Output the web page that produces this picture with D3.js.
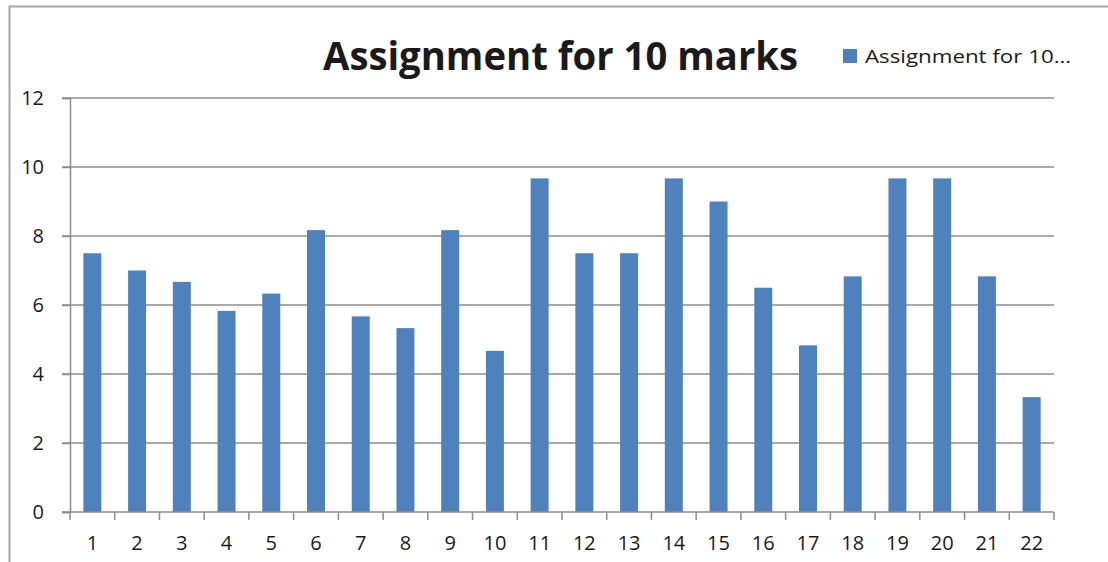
<!DOCTYPE html>
<html>
<head>
<meta charset="utf-8">
<script src="https://cdn.jsdelivr.net/npm/d3@7"></script>
<style>
  html, body { margin: 0; padding: 0; background: #fff; }
  svg { display: block; }
  text { font-family: "Open Sans", "Noto Sans", sans-serif; fill: #1a1a1a; }
</style>
</head>
<body>
<svg id="chart" width="1108" height="562"></svg>
<script>
const title = "Assignment for 10 marks";
const legendLabel = "Assignment for 10…";
const categories = ["1","2","3","4","5","6","7","8","9","10","11","12","13","14","15","16","17","18","19","20","21","22"];
const values = [7.5, 7.0, 6.67, 5.83, 6.33, 8.17, 5.67, 5.33, 8.17, 4.67, 9.67, 7.5, 7.5, 9.67, 9.0, 6.5, 4.83, 6.83, 9.67, 9.67, 6.83, 3.33];
const yTicks = [0, 2, 4, 6, 8, 10, 12];

const svg = d3.select("#chart");
const W = 1108, H = 562;
const m = { left: 70, right: 1054, top: 98, bottom: 512 };

// outer chart border (left and top visible)
svg.append("path")
  .attr("d", `M9.5,${H} L9.5,6.5 L${W},6.5`)
  .attr("fill", "none").attr("stroke", "#a6a6a6").attr("stroke-width", 2);

const x = d3.scaleBand().domain(categories).range([m.left, m.right]).paddingInner(0.6).paddingOuter(0.3);
const xb = d3.scaleBand().domain(categories).range([m.left, m.right]).padding(0);
const y = d3.scaleLinear().domain([0, 12]).range([m.bottom, m.top]);

// gridlines
svg.append("g").selectAll("line").data(yTicks.filter(d => d > 0)).join("line")
  .attr("x1", m.left - 8).attr("x2", m.right)
  .attr("y1", d => y(d)).attr("y2", d => y(d))
  .attr("stroke", "#8c8c8c").attr("stroke-width", 1.5);

// bars
svg.append("g").selectAll("rect").data(values).join("rect")
  .attr("x", (d, i) => xb(categories[i]) + xb.bandwidth() / 2 - 9)
  .attr("width", 18)
  .attr("y", d => y(d))
  .attr("height", d => y(0) - y(d))
  .attr("fill", "#4f81bd");

// y axis
const yAxis = svg.append("g").attr("transform", `translate(${m.left},0)`)
  .call(d3.axisLeft(y).tickValues(yTicks).tickSize(8).tickPadding(18).tickFormat(d3.format("d")));
yAxis.select(".domain").attr("stroke", "#8c8c8c").attr("stroke-width", 1.5);
yAxis.selectAll(".tick line").attr("stroke", "#8c8c8c").attr("stroke-width", 1.5);
yAxis.selectAll("text").style("font-size", "20px").attr("fill", "#1a1a1a")
  .style("font-family", '"Open Sans", sans-serif');

// x axis
const xAxis = svg.append("g").attr("transform", `translate(0,${m.bottom})`)
  .call(d3.axisBottom(xb).tickSize(0).tickPadding(24));
xAxis.select(".domain").remove();
xAxis.selectAll("text").style("font-size", "20px").attr("fill", "#1a1a1a")
  .style("font-family", '"Open Sans", sans-serif');
svg.append("line").attr("x1", m.left - 8).attr("x2", m.right)
  .attr("y1", m.bottom).attr("y2", m.bottom)
  .attr("stroke", "#8c8c8c").attr("stroke-width", 1.5);
// x tick marks at category boundaries
const bounds = categories.map(c => xb(c)).concat([m.right]);
svg.append("g").selectAll("line").data(bounds).join("line")
  .attr("x1", d => d).attr("x2", d => d)
  .attr("y1", m.bottom).attr("y2", m.bottom + 8)
  .attr("stroke", "#8c8c8c").attr("stroke-width", 1.5);

// title
svg.append("text").attr("x", 323).attr("y", 70)
  .attr("textLength", 475).attr("lengthAdjust", "spacingAndGlyphs")
  .style("font-size", "40px").style("font-weight", "bold").attr("fill", "#000")
  .text(title);

// legend
svg.append("rect").attr("x", 843).attr("y", 49).attr("width", 14).attr("height", 14).attr("fill", "#4f81bd");
svg.append("text").attr("x", 865).attr("y", 63)
  .attr("textLength", 206).attr("lengthAdjust", "spacingAndGlyphs")
  .style("font-size", "19px").attr("fill", "#1a1a1a")
  .text(legendLabel);
</script>
</body>
</html>
